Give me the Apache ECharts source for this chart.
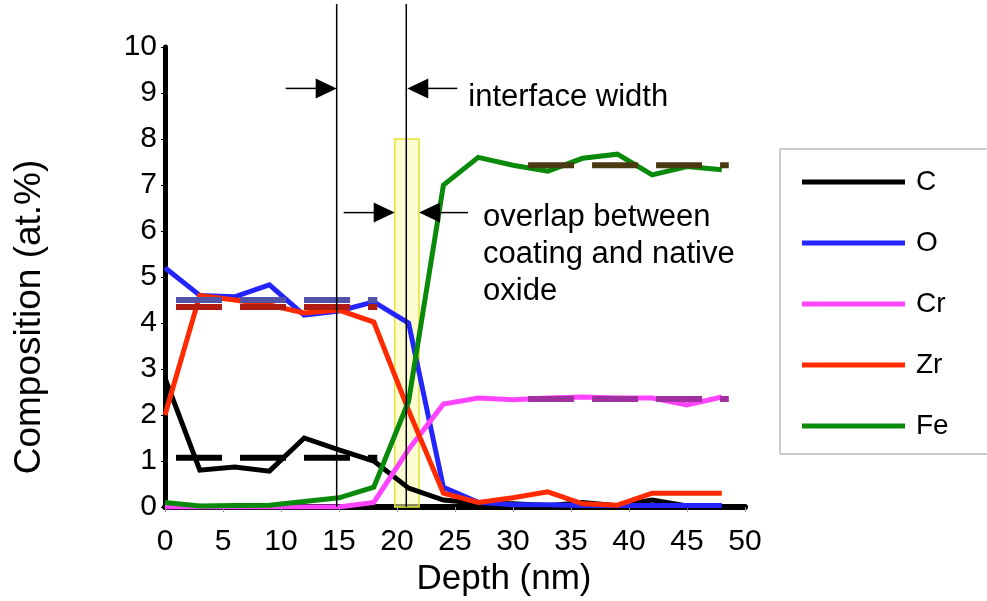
<!DOCTYPE html>
<html>
<head>
<meta charset="utf-8">
<script src="https://cdn.jsdelivr.net/npm/echarts@6/dist/echarts.min.js"></script>
<style>
  html, body { margin: 0; padding: 0; background: #fff; }
  #chart { width: 987px; height: 601px; }
</style>
</head>
<body>
<div id="chart"></div>
<script>
// depth profile, one point every 3 nm
var depth = [0, 3, 6, 9, 12, 15, 18, 21, 24, 27, 30, 33, 36, 39, 42, 45, 48];
var carbon = [2.8, 0.8, 0.87, 0.78, 1.5, 1.24, 1.0, 0.41, 0.15, 0.08, 0.07, 0.03, 0.1, 0.03, 0.15, 0.02, 0.02];
var oxygen = [5.2, 4.6, 4.57, 4.83, 4.17, 4.26, 4.46, 4.0, 0.43, 0.1, 0.05, 0.05, 0.03, 0.03, 0.03, 0.03, 0.03];
var chromium = [0, 0, 0, 0, 0, 0, 0.1, 1.25, 2.24, 2.37, 2.33, 2.37, 2.39, 2.37, 2.37, 2.22, 2.39];
var zirconium = [2.0, 4.6, 4.5, 4.39, 4.22, 4.28, 4.02, 2.1, 0.3, 0.1, 0.2, 0.33, 0.07, 0.04, 0.3, 0.3, 0.3];
var iron = [0.1, 0.02, 0.03, 0.04, 0.12, 0.2, 0.43, 2.3, 7.0, 7.6, 7.43, 7.3, 7.58, 7.67, 7.22, 7.4, 7.33];

// mean levels (dashed)
var coatingRange = [0.95, 18.3];
var substrateRange = [31.3, 48.6];
var coatingMeanC = 1.07, coatingMeanO = 4.5, coatingMeanZr = 4.35;
var substrateMeanFe = 7.43, substrateMeanCr = 2.35;

// annotations
var interfaceEdges = [14.8, 20.8];
var overlapBand = [19.8, 21.9];
var overlapTop = 8;
var interfaceArrowY = 9.1, overlapArrowY = 6.4;

var xTicks = { min: 0, max: 50, interval: 5 };
var yTicks = { min: 0, max: 10, interval: 1 };

var FONT = 'Liberation Sans, Arial, sans-serif';

function pairs(ys) {
    return depth.map(function (x, i) { return [x, ys[i]]; });
}
function profile(name, ys, color) {
    return {
        name: name,
        type: 'line',
        data: pairs(ys),
        symbol: 'none',
        color: color,
        lineStyle: { color: color, width: 5, join: 'miter' },
        animation: false
    };
}
function meanLine(name, range, v, color) {
    return {
        name: name,
        type: 'line',
        data: [[range[0], v], [range[1], v]],
        symbol: 'none',
        lineStyle: { color: color, width: 6, type: [46, 18], cap: 'butt' },
        animation: false,
        z: 5
    };
}

var series = [
    profile('C', carbon, '#000000'),
    profile('O', oxygen, '#2424ff'),
    profile('Cr', chromium, '#ff44ff'),
    profile('Zr', zirconium, '#ff2a00'),
    profile('Fe', iron, '#0a8a0a'),
    meanLine('O mean', coatingRange, coatingMeanO, '#5252a6'),
    meanLine('Zr mean', coatingRange, coatingMeanZr, '#b01c12'),
    meanLine('C mean', coatingRange, coatingMeanC, '#000000'),
    meanLine('Fe mean', substrateRange, substrateMeanFe, '#4a3a12'),
    meanLine('Cr mean', substrateRange, substrateMeanCr, '#a030a0')
];
// overlap band
series[4].markArea = {
    silent: true,
    itemStyle: { color: 'rgba(250,250,170,0.55)', borderColor: '#e4e436', borderWidth: 1.5 },
    data: [[{ xAxis: overlapBand[0], yAxis: 0 }, { xAxis: overlapBand[1], yAxis: overlapTop }]]
};

var chart = echarts.init(document.getElementById('chart'));
chart.setOption({
    backgroundColor: '#ffffff',
    animation: false,
    textStyle: { fontFamily: FONT },
    grid: { left: 165, right: 242, top: 47, bottom: 94, outerBoundsMode: 'none' },
    legend: {
        orient: 'vertical',
        left: 780,
        top: 149,
        padding: [19, 80, 14, 22],
        icon: 'rect',
        itemWidth: 103,
        itemHeight: 5,
        itemGap: 33,
        borderColor: '#999',
        borderWidth: 1,
        textStyle: { fontSize: 28, lineHeight: 28, color: '#000', fontFamily: FONT, padding: [0, 0, 0, 6] },
        data: ['C', 'O', 'Cr', 'Zr', 'Fe']
    },
    xAxis: {
        type: 'value',
        min: xTicks.min, max: xTicks.max, interval: xTicks.interval,
        name: 'Depth (nm)',
        nameLocation: 'middle',
        nameGap: 52,
        nameTextStyle: { fontSize: 35, color: '#000', fontFamily: FONT, padding: [0, 0, 0, 98] },
        axisLine: { lineStyle: { color: '#000', width: 6 } },
        axisTick: { length: 5, lineStyle: { color: '#999', width: 1 } },
        axisLabel: { fontSize: 30, color: '#000', margin: 20, fontFamily: FONT },
        splitLine: { show: false }
    },
    yAxis: {
        type: 'value',
        min: yTicks.min, max: yTicks.max, interval: yTicks.interval,
        name: 'Composition (at.%)',
        nameLocation: 'middle',
        nameGap: 117,
        nameTextStyle: { fontSize: 37, color: '#000', fontFamily: FONT, padding: [0, 80, 0, 0] },
        axisLine: { lineStyle: { color: '#000', width: 5 } },
        axisTick: { length: 4, lineStyle: { color: '#000', width: 1 } },
        axisLabel: { fontSize: 30, color: '#000', margin: 8, fontFamily: FONT },
        splitLine: { show: false }
    },
    series: series
});

// arrows, guide lines and notes placed from data coordinates
function px(x, y) { return chart.convertToPixel({ gridIndex: 0 }, [x, y]); }
var y0 = px(0, 0)[1];
var g = [];
interfaceEdges.forEach(function (x) {
    var p = px(x, 0)[0];
    g.push({ type: 'line', z: 100, shape: { x1: p, y1: 4, x2: p, y2: y0 }, style: { stroke: '#000', lineWidth: 1.5 } });
});
function arrow(tipX, y, dir, tail) {
    g.push({ type: 'line', z: 100, shape: { x1: tipX - dir * tail, y1: y, x2: tipX - dir * 20, y2: y }, style: { stroke: '#000', lineWidth: 1.5 } });
    g.push({ type: 'polygon', z: 100, shape: { points: [[tipX, y], [tipX - dir * 21, y - 10], [tipX - dir * 21, y + 10]] }, style: { fill: '#000' } });
}
var ia = px(0, interfaceArrowY)[1];
var leftEdge = px(interfaceEdges[0], 0)[0], rightEdge = px(interfaceEdges[1], 0)[0];
arrow(leftEdge, ia, 1, 51);
arrow(rightEdge + 1, ia, -1, 50);
g.push({ type: 'text', z: 100, x: rightEdge + 62, y: ia + 9,
    style: { text: 'interface width', fontSize: 31, fontFamily: FONT, fill: '#000', verticalAlign: 'middle' } });

var oa = px(0, overlapArrowY)[1];
var bandL = px(overlapBand[0], 0)[0], bandR = px(overlapBand[1], 0)[0];
arrow(bandL, oa, 1, 51);
arrow(bandR, oa, -1, 49);
g.push({ type: 'text', z: 100, x: bandR + 64, y: oa - 14,
    style: { text: 'overlap between\ncoating and native\noxide', fontSize: 31, lineHeight: 37,
        fontFamily: FONT, fill: '#000', verticalAlign: 'top' } });

chart.setOption({ graphic: g });
</script>
</body>
</html>
